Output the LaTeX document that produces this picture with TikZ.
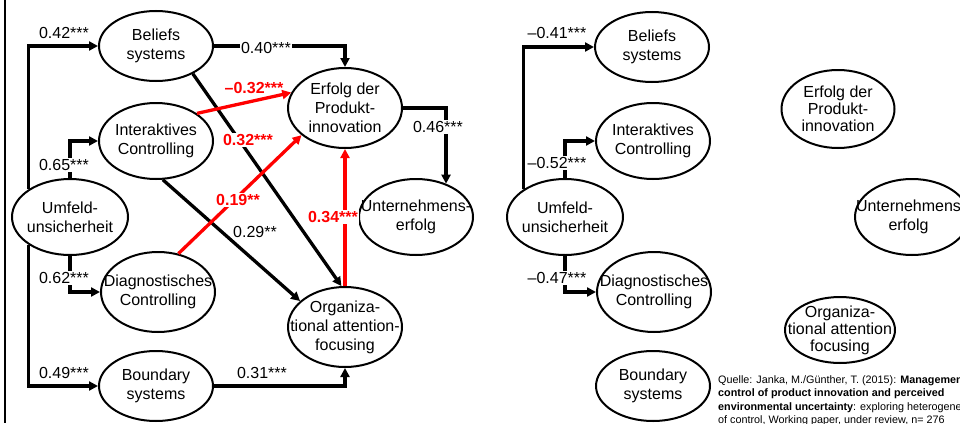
\documentclass[tikz,border=0pt]{standalone}
\usepackage{fontspec}
\setmainfont{Liberation Sans}
\usetikzlibrary{shapes.geometric,arrows.meta}
\definecolor{pathred}{RGB}{255,0,0}
\begin{document}
\begin{tikzpicture}[x=1pt,y=-1pt,
  ell/.style={draw,ellipse,line width=2pt,inner sep=0pt,minimum width=114pt,minimum height=76pt},
  txt/.style={align=center,font=\fontsize{16}{19}\selectfont,inner sep=0pt},
  conn/.style={line width=3.3pt,-{Triangle[length=9pt,width=9pt]}},
  redconn/.style={conn,draw=pathred},
  coef/.style={font=\fontsize{16}{19}\selectfont,inner sep=1.5pt},
  redcoef/.style={coef,text=pathred,font=\fontsize{16}{19}\selectfont\bfseries},
  mask/.style={fill=white}
]
\useasboundingbox (0,0) rectangle (960,423);
\clip (0,0) rectangle (960,423);

% slide border on the left
\draw[line width=2pt] (5,0) -- (5,423);

% ---------- left model: constructs ----------
\node[ell,minimum height=70pt] (B)  at (156,46)  {};
\node[ell]                     (I)  at (156,141) {};
\node[ell,minimum height=80pt] (E)  at (345,108) {};
\node[ell,minimum width=116pt] (U)  at (70,217)  {};
\node[ell]                     (Un) at (416,217) {};
\node[ell,minimum height=80pt] (D)  at (158,292) {};
\node[ell,minimum height=80pt] (O)  at (345,327) {};
\node[ell,minimum height=70pt] (Bd) at (156,386) {};

\node[txt] (Bt)  at (B)  {Beliefs\\systems};
\node[txt] (It)  at (I)  {Interaktives\\Controlling};
\node[txt] (Et)  at (E)  {Erfolg der\\Produkt-\\innovation};
\node[txt] (Ut)  at (U)  {Umfeld-\\unsicherheit};
\node[txt] (Unt) at (Un) {Unternehmens-\\erfolg};
\node[txt] (Dt)  at (D)  {Diagnostisches\\Controlling};
\node[txt] (Ot)  at (O)  {Organiza-\\tional attention-\\focusing};
\node[txt] (Bdt) at (Bd) {Boundary\\systems};

% ---------- left model: paths ----------
\draw[conn] (U.north west) |- (B.west);
\draw[conn] (U.north) |- (I.west);
\draw[conn] (U.south) |- (D.west);
\draw[conn] (U.south west) |- (Bd.west);
\draw[conn] (B.east) -| (E.north);
\draw[conn] (E.east) -| (Un.48);
\draw[conn] (Bd.east) -| (O.south);
\draw[conn] (B.-37) -- (O.95);
\draw[conn] (I.-80) -- (O.150);
\draw[redconn] (I.34) -- (E.164);
\draw[redconn] (D.62) -- (E.212);
\draw[redconn] (O.north) -- (E.south);

% ---------- left model: coefficients ----------
\node[coef]      (c1)  at (64,33)   {0.42***};
\node[coef,mask] (c2)  at (64,165)  {0.65***};
\node[coef,mask] (c3)  at (64,278)  {0.62***};
\node[coef]      (c4)  at (64,373)  {0.49***};
\node[coef,mask] (c5)  at (266,48)  {0.40***};
\node[coef,mask] (c6)  at (438,127) {0.46***};
\node[coef]      (c7)  at (262,373) {0.31***};
\node[coef]      (c8)  at (255,232) {0.29**};
\node[redcoef]      (c9)  at (254,88)  {–0.32***};
\node[redcoef,mask] (c10) at (248,140) {0.32***};
\node[redcoef,mask] (c11) at (238,200) {0.19**};
\node[redcoef,mask] (c12) at (333,217) {0.34***};

% ---------- right model: constructs ----------
\node[ell,minimum height=70pt] (B2)  at (652,47)  {};
\node[ell]                     (I2)  at (653,141) {};
\node[ell,minimum width=113pt,minimum height=78pt] (E2) at (838,109) {};
\node[ell,minimum width=116pt] (U2)  at (565,217) {};
\node[ell]                     (Un2) at (912,217) {};
\node[ell,minimum height=80pt] (D2)  at (654,292) {};
\node[ell,minimum width=110pt,minimum height=66pt] (O2) at (840,330) {};
\node[ell,minimum height=70pt] (Bd2) at (653,386) {};

\node[txt] (B2t)  at (B2)  {Beliefs\\systems};
\node[txt] (I2t)  at (I2)  {Interaktives\\Controlling};
\node[txt,font=\fontsize{16}{17}\selectfont] (E2t) at (E2) {Erfolg der\\Produkt-\\innovation};
\node[txt] (U2t)  at (U2)  {Umfeld-\\unsicherheit};
\node[txt] (Un2t) at (908.5,217) {Unternehmens\\erfolg};
\node[txt] (D2t)  at (D2)  {Diagnostisches\\Controlling};
\node[txt,font=\fontsize{16}{17}\selectfont] (O2t) at (O2) {Organiza-\\tional attention\\focusing};
\node[txt] (Bd2t) at (Bd2) {Boundary\\systems};

% ---------- right model: paths and coefficients ----------
\draw[conn] (U2.north west) |- (B2.west);
\draw[conn] (U2.north) |- (I2.west);
\draw[conn] (U2.south) |- (D2.west);

\node[coef]      (r1) at (557,33)  {–0.41***};
\node[coef,mask] (r2) at (557,163) {–0.52***};
\node[coef,mask] (r3) at (557,278) {–0.47***};

% ---------- source ----------
\node[anchor=north west,align=left,inner sep=0pt,font=\fontsize{10.8}{13.5}\selectfont] (src) at (718,375)
  {Quelle: Janka, M./Günther, T. (2015): \textbf{Management}\\
   \textbf{control of product innovation and perceived}\\
   \textbf{environmental uncertainty}: exploring heterogeneity\\
   of control, Working paper, under review, n= 276};
\end{tikzpicture}
\end{document}
